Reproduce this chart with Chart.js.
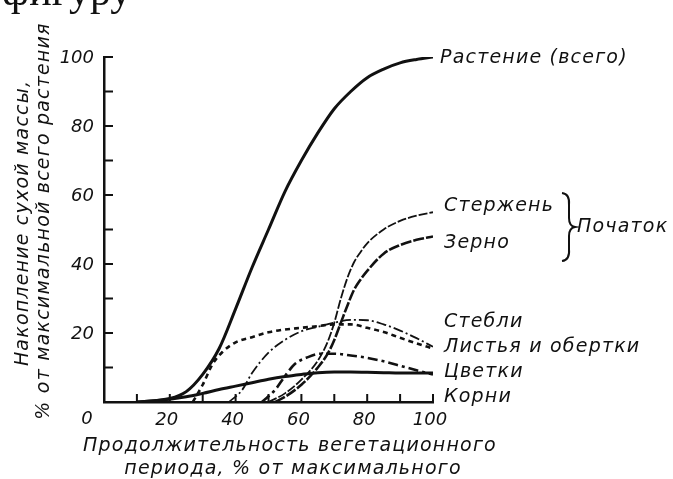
<!DOCTYPE html>
<html>
<head>
<meta charset="utf-8">
<script src="https://cdn.jsdelivr.net/npm/chart.js@4.4.1/dist/chart.umd.min.js"></script>
<style>
    html, body { margin: 0; padding: 0; background: #fff; }
    #wrap { width: 673px; height: 479px; position: relative; }
</style>
</head>
<body>
<div id="wrap"><canvas id="growthChart" width="673" height="479"></canvas></div>
<script>
// накопление сухой массы по органам, % от максимальной массы всего растения
const plantX = [10, 20, 25, 30, 35, 40, 45, 50, 55, 60, 65, 70, 75, 80, 85, 90, 95, 100];
const plantY = [0, 1, 3, 8, 15.5, 27, 39, 50, 61, 70, 78, 85, 90, 94, 96.5, 98.3, 99.3, 100];

const cobX = [50, 55, 60, 65, 68, 70, 72, 74, 76, 78, 80, 85, 90, 95, 100];
const cobY = [0, 2.5, 6.5, 12, 17.5, 23, 30, 36, 40.5, 43.5, 46, 50, 52.5, 54, 55];

const grainX = [52, 55, 60, 65, 68, 70, 72, 74, 76, 78, 80, 85, 90, 95, 100];
const grainY = [0, 1.5, 5, 10, 14, 18, 23, 28, 32.5, 35.5, 38, 43, 45.5, 47, 48];

const stemsX = [38, 42, 45, 50, 55, 60, 65, 70, 75, 80, 85, 90, 95, 100];
const stemsY = [0, 3.5, 8.4, 14.3, 18, 20.5, 21.8, 23, 23.8, 23.7, 22.5, 20.7, 18.5, 16];

const leavesX = [27, 30, 33, 36, 40, 45, 50, 55, 60, 65, 70, 75, 80, 85, 90, 95, 100];
const leavesY = [0, 5, 11, 14.5, 17.3, 18.8, 20.2, 21, 21.5, 22, 22.5, 22.5, 21.5, 20.3, 18.6, 17, 15.5];

const flowersX = [48, 52, 55, 58, 62, 66, 70, 75, 80, 85, 90, 95, 100];
const flowersY = [0, 3.5, 7.5, 11, 13, 14, 14, 13.5, 12.8, 11.8, 10.5, 9.2, 8];

const rootsX = [10, 20, 25, 30, 35, 40, 45, 50, 55, 60, 65, 70, 75, 80, 85, 90, 95, 100];
const rootsY = [0, 0.8, 1.5, 2.5, 3.6, 4.6, 5.6, 6.6, 7.4, 8, 8.5, 8.7, 8.7, 8.6, 8.5, 8.4, 8.4, 8.4];

const xTickLabels = ['20', '40', '60', '80', '100'];
const yTickLabels = ['20', '40', '60', '80', '100'];

const FONT = 'italic 19px "DejaVu Sans", sans-serif';
const TICK_FONT = 'italic 18px "DejaVu Sans", sans-serif';
const INK = '#111';

function toPoints(xs, ys) {
    return xs.map((x, i) => ({ x: x, y: ys[i] }));
}

function series(label, xs, ys, width, dash) {
    return {
        label: label,
        data: toPoints(xs, ys),
        borderColor: INK,
        borderWidth: width,
        borderDash: dash,
        pointRadius: 0,
        fill: false,
        cubicInterpolationMode: 'monotone'
    };
}

const datasets = [
    series('Растение (всего)', plantX, plantY, 3, []),
    series('Стержень', cobX, cobY, 1.8, [9, 2]),
    series('Зерно', grainX, grainY, 2.6, [11, 2]),
    series('Стебли', stemsX, stemsY, 1.8, [10, 3, 2, 3]),
    series('Листья и обертки', leavesX, leavesY, 2.6, [5, 4]),
    series('Цветки', flowersX, flowersY, 2.6, [10, 4, 3, 4]),
    series('Корни', rootsX, rootsY, 3, [])
];

// подписи кривых справа от графика (левый край, центр по y)
const curveLabels = [
    ['Растение (всего)', 440, 58],
    ['Стержень', 444, 206],
    ['Зерно', 444, 243],
    ['Стебли', 444, 322],
    ['Листья и обертки', 444, 347],
    ['Цветки', 444, 372],
    ['Корни', 444, 397]
];

function spaced(ctx, px) {
    if ('letterSpacing' in ctx) ctx.letterSpacing = px + 'px';
}

const decorPlugin = {
    id: 'decor',
    afterDraw(chart) {
        const ctx = chart.ctx;
        const xs = chart.scales.x;
        const ys = chart.scales.y;
        const left = xs.getPixelForValue(0);
        const bottom = ys.getPixelForValue(0);

        ctx.save();
        ctx.strokeStyle = INK;
        ctx.fillStyle = INK;
        ctx.lineWidth = 2;

        // внутренние засечки через каждые 10 %
        ctx.beginPath();
        for (let v = 10; v <= 100; v += 10) {
            const px = xs.getPixelForValue(v);
            ctx.moveTo(px, bottom);
            ctx.lineTo(px, bottom - 8);
            const py = ys.getPixelForValue(v);
            ctx.moveTo(left, py);
            ctx.lineTo(left + 9, py);
        }
        ctx.stroke();

        ctx.font = TICK_FONT;
        ctx.textBaseline = 'middle';
        spaced(ctx, 0);

        ctx.textAlign = 'right';
        yTickLabels.forEach(t => {
            ctx.fillText(t, left - 10, ys.getPixelForValue(+t) + 1);
        });
        ctx.textAlign = 'center';
        xTickLabels.forEach(t => {
            ctx.fillText(t, xs.getPixelForValue(+t) - 3, bottom + 18);
        });
        ctx.fillText('0', left - 17, bottom + 17);

        ctx.font = FONT;
        spaced(ctx, 1.2);
        ctx.textAlign = 'left';
        curveLabels.forEach(([text, x, y]) => ctx.fillText(text, x, y));

        // фигурная скобка для початка
        ctx.lineWidth = 2;
        ctx.beginPath();
        ctx.moveTo(562, 193);
        ctx.quadraticCurveTo(570, 194, 569, 205);
        ctx.lineTo(569, 218);
        ctx.quadraticCurveTo(569, 226, 575, 227);
        ctx.quadraticCurveTo(569, 228, 569, 236);
        ctx.lineTo(569, 249);
        ctx.quadraticCurveTo(570, 260, 562, 261);
        ctx.stroke();
        ctx.fillText('Початок', 577, 227);

        // подписи осей
        ctx.textAlign = 'center';
        ctx.fillText('Продолжительность вегетационного', 290, 446);
        ctx.fillText('периода, % от максимального', 293, 469);

        ctx.save();
        ctx.translate(23, 223);
        ctx.rotate(-Math.PI / 2);
        ctx.fillText('Накопление сухой массы,', 0, 0);
        ctx.restore();
        ctx.save();
        ctx.translate(44, 221);
        ctx.rotate(-Math.PI / 2);
        ctx.fillText('% от максимальной всего растения', 0, 0);
        ctx.restore();

        // обрезанная строка текста над рисунком
        spaced(ctx, 0);
        ctx.font = '42px "Liberation Serif", serif';
        ctx.textAlign = 'left';
        ctx.textBaseline = 'alphabetic';
        ctx.fillText('фигуру', 2, 5);
        ctx.restore();
    }
};

new Chart(document.getElementById('growthChart'), {
    type: 'line',
    data: { datasets: datasets },
    options: {
        responsive: false,
        animation: false,
        layout: { padding: { left: 104, right: 240, top: 57, bottom: 77 } },
        plugins: {
            legend: { display: false },
            tooltip: { enabled: false }
        },
        scales: {
            x: {
                type: 'linear',
                min: 0,
                max: 100,
                grid: { display: false, drawTicks: false },
                border: { display: true, color: INK, width: 2.5 },
                ticks: { display: false }
            },
            y: {
                min: 0,
                max: 100,
                grid: { display: false, drawTicks: false },
                border: { display: true, color: INK, width: 2.5 },
                ticks: { display: false }
            }
        }
    },
    plugins: [decorPlugin]
});
</script>
</body>
</html>
